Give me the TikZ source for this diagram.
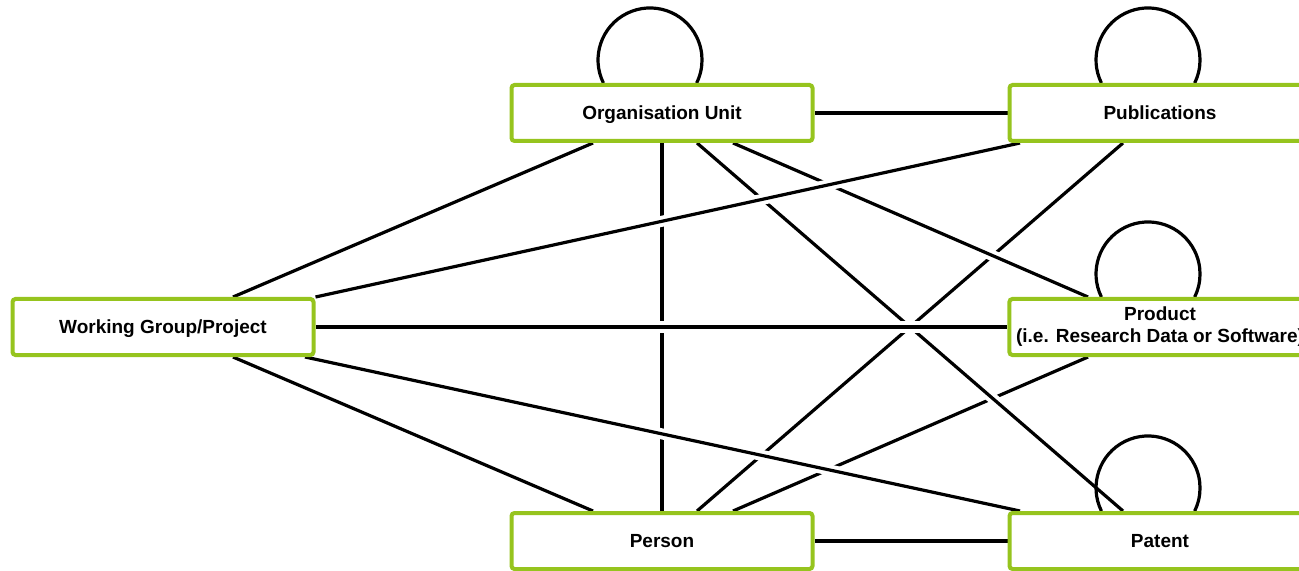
\documentclass[tikz,border=0pt]{standalone}
\usepackage{fontspec}
\setmainfont{Liberation Sans}
\usetikzlibrary{calc}
\pgfdeclarelayer{background}
\pgfsetlayers{background,main}
\definecolor{boxgreen}{RGB}{150,196,30}

\begin{document}
\begin{tikzpicture}[
		x=0.5pt, y=-0.5pt,
		entity/.style={rectangle, rounded corners=1.5pt, draw=boxgreen, line width=2pt, fill=white, minimum width=150.5pt, minimum height=28pt, align=center, font=\bfseries\fontsize{9.5}{11}\selectfont},
		oneline/.style={text height=6.8pt, text depth=0pt},
		link/.style={line width=1.6pt, preaction={draw=white, line width=5.5pt}},
		selfloop/.style={line width=1.6pt}
		]
		\useasboundingbox (0,0) rectangle (1299,571);
		
		% Entities
		\node[entity, oneline] (org) at (662,113) {Organisation Unit};
		\node[entity, oneline] (pub) at (1160,113) {Publications};
		\node[entity, oneline] (wg) at (163,327) {Working Group/Project};
		\node[entity] (prod) at (1160,327) {Product\\(i.e. Research Data or Software)};
		\node[entity, oneline] (person) at (662,541) {Person};
		\node[entity, oneline] (pat) at (1160,541) {Patent};
		
		\begin{pgfonlayer}{background}
			% Relations without crossings
			\draw[link] (org.east) -- (pub.west);
			\draw[link] ($(org.south)+(-69,0)$) -- ($(wg.north)+(70,0)$);
			\draw[link] ($(wg.south)+(70,0)$) -- ($(person.north)+(-69,0)$);
			\draw[link] (person.east) -- (pat.west);
			
			% Crossing relations, later ones stay unbroken
			\draw[link] ($(pub.south)+(-37,0)$) -- ($(person.north)+(35,0)$);
			\draw[link] ($(prod.south)+(-72,0)$) -- ($(person.north)+(71,0)$);
			\draw[link] (org.south) -- (person.north);
			\draw[link] ($(org.south)+(35,0)$) -- ($(pat.north)+(-37,0)$);
			\draw[link] ($(org.south)+(71,0)$) -- ($(prod.north)+(-72,0)$);
			\draw[link] ($(pub.south)+(-140,0)$) -- (wg.north east);
			\draw[link] (wg.east) -- (prod.west);
			\draw[link] ($(wg.south)+(142,0)$) -- ($(pat.north)+(-140,0)$);
			
			% Self relations
			\foreach \n in {org, pub, prod, pat}
			\draw[selfloop] ($(\n.north)+(-58.6,0)$) arc[start angle=206.3, end angle=-26.3, radius=26pt];
		\end{pgfonlayer}
		
	\end{tikzpicture}
\end{document}
